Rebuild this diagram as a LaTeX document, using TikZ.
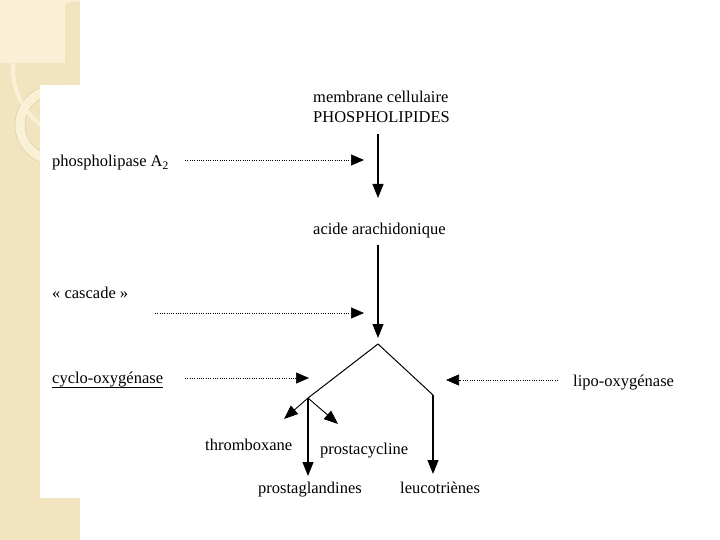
\documentclass[tikz,border=0pt]{standalone}
\usepackage{fontspec}
\setmainfont{Liberation Serif}
\usetikzlibrary{arrows.meta}
\definecolor{beige}{RGB}{242,228,190}
\definecolor{beigelight}{RGB}{249,240,214}
\definecolor{beigeline}{RGB}{222,204,160}
\begin{document}
\begin{tikzpicture}[x=1pt,y=-1pt,
  lbl/.style={inner sep=0pt, font=\fontsize{16.5}{20}\selectfont, anchor=base west},
  flow/.style={line width=1.1pt, -{Triangle[length=14pt,width=11pt]}},
  hint/.style={line width=0.6pt, dash pattern=on 1pt off 1.3pt, -{Triangle[length=13pt,width=11pt]}},
  branch/.style={line width=1pt}]
\useasboundingbox (0,0) rectangle (720,540);
% background
\fill[beige] (0,0) rectangle (80,540);
\begin{scope}
  \clip (0,0) rectangle (80,540);
  \fill[beigelight] (0,0) rectangle (65,63);
  \fill[beigelight, even odd rule] (55,125) circle (40) (55,125) circle (30);
  \draw[beigeline, line width=0.5pt] (55,125) circle (40) (55,125) circle (30);
  \draw[beigelight, line width=4pt] (83,69) circle (70);
\end{scope}
\fill[white] (40,85) rectangle (720,498);
% texts
\node[lbl] (mem) at (313,103) {membrane cellulaire};
\node[lbl] (phos) at (313,123) {PHOSPHOLIPIDES};
\node[lbl] (pla) at (52,167) {phospholipase A\textsubscript{2}};
\node[lbl] (aa) at (313,235) {acide arachidonique};
\node[lbl] (casc) at (52,298) {« cascade »};
\node[lbl] (cox) at (52,383) {cyclo-oxygénase};
\node[lbl] (lox) at (573,386) {lipo-oxygénase};
\node[lbl] (tx) at (205,450) {thromboxane};
\node[lbl] (pgi) at (320,454) {prostacycline};
\node[lbl] (pg) at (258,493) {prostaglandines};
\node[lbl] (lt) at (400,493) {leucotriènes};
\draw[line width=0.8pt] ([yshift=-4pt]cox.base west) -- ([yshift=-4pt]cox.base east);
% coordinates
\coordinate (a1s) at (378,134);
\coordinate (a1e) at (378,198);
\coordinate (d1s) at (185,160);
\coordinate (d1e) at (364,160);
\coordinate (a2s) at (378,245);
\coordinate (a2e) at (378,338);
\coordinate (d2s) at (155,313);
\coordinate (d2e) at (364,313);
\coordinate (apex) at (378,344);
\coordinate (L) at (308,398);
\coordinate (R) at (433,395);
\coordinate (d3s) at (185,378);
\coordinate (d3e) at (309,378);
\coordinate (d4s) at (558,380);
\coordinate (d4e) at (446,380);
\coordinate (txe) at (284,419);
\coordinate (pgie) at (338,424);
\coordinate (pge) at (308,476);
\coordinate (lte) at (433,474);
% connectors
\draw[flow] (a1s) -- (a1e);
\draw[hint] (d1s) -- (d1e);
\draw[flow] (a2s) -- (a2e);
\draw[hint] (d2s) -- (d2e);
\draw[branch] (L) -- (apex) -- (R);
\draw[hint] (d3s) -- (d3e);
\draw[hint] (d4s) -- (d4e);
\draw[flow, line width=0.9pt] (L) -- (txe);
\draw[flow, line width=0.9pt] (L) -- (pgie);
\draw[flow] (L) -- (pge);
\draw[flow] (R) -- (lte);
\end{tikzpicture}
\end{document}
